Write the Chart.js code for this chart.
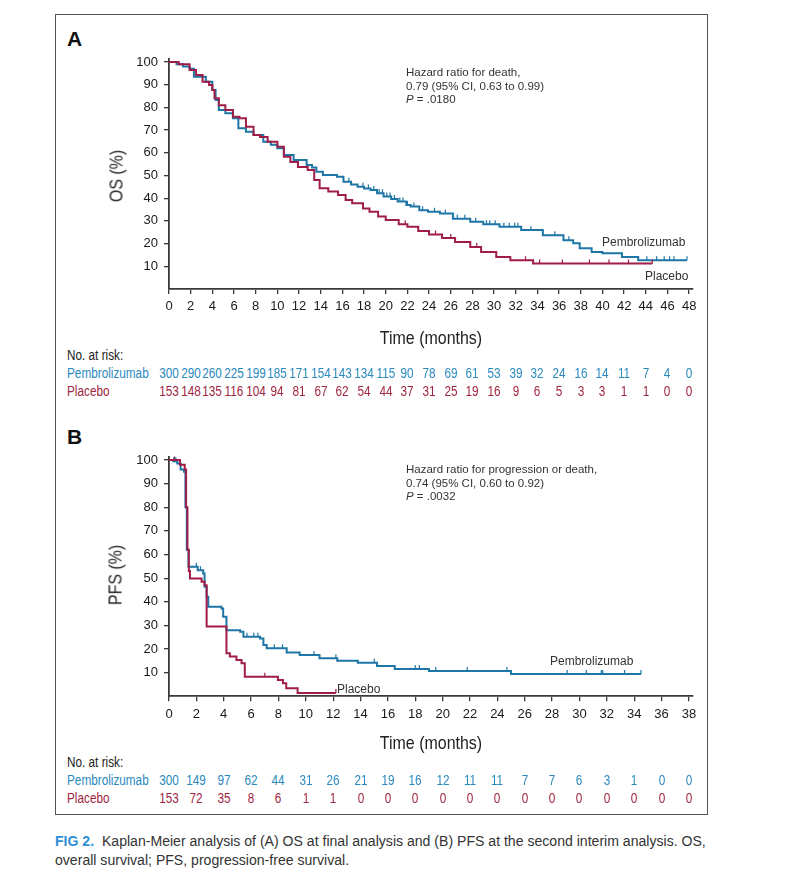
<!DOCTYPE html>
<html lang="en">
<head>
<meta charset="UTF-8">
<title>FIG 2 Kaplan-Meier</title>
<script src="https://cdn.jsdelivr.net/npm/chart.js"></script>
<style>
  body {
    margin: 0;
    width: 792px;
    height: 889px;
    position: relative;
    overflow: hidden;
    background: #fff;
    font-family: "Liberation Sans", Arial, sans-serif;
    color: #222;
  }
  .frame {
    position: absolute;
    left: 55px;
    top: 14px;
    width: 651px;
    height: 799px;
    border: 1px solid #555;
  }
  .box { position: absolute; }
  .t {
    position: absolute;
    white-space: nowrap;
    line-height: 1;
    transform: translateY(-50%);
  }
  /* condensed look: no narrow face installed, so squeeze the regular one */
  .n { transform: translateY(-50%) scaleX(0.84); transform-origin: left center; }
  .nc { transform: translate(-50%, -50%) scaleX(0.84); transform-origin: center center; }
  .panel { font-weight: bold; font-size: 21px; color: #111; }
  .note { font-size: 11.5px; color: #333; line-height: 13.5px; transform: none; }
  .lab { font-size: 12px; color: #333; }
  .ytitle { font-size: 19px; transform: translate(-50%, -50%) rotate(-90deg) scaleX(0.84); }
  .xtitle { font-size: 19px; }
  .risk { font-size: 14px; }
  .pem { color: #2a89bd; }
  .pla { color: #a0263f; }
  .cap { font-size: 15.3px; color: #333; transform: translateY(-50%) scaleX(0.92); transform-origin: left center; }
  .cap b { color: #2e8fd6; }
</style>
</head>
<body>
<div class="frame"></div>

<div class="t panel" style="left:67px; top:38px">A</div>
<div class="box" style="left:100px; top:40px"><canvas id="chartA" width="610" height="290"></canvas></div>
<div class="t note" style="left:406px; top:66px">Hazard ratio for death,<br>0.79 (95% CI, 0.63 to 0.99)<br><i>P</i> = .0180</div>
<div class="t lab" style="left:602px; top:242px">Pembrolizumab</div>
<div class="t lab" style="left:645px; top:276px">Placebo</div>
<div class="t ytitle" style="left:116px; top:176px">OS (%)</div>
<div class="t nc xtitle" style="left:431px; top:337px">Time (months)</div>
<div id="riskA"></div>

<div class="t panel" style="left:67px; top:436px">B</div>
<div class="box" style="left:100px; top:440px"><canvas id="chartB" width="610" height="290"></canvas></div>
<div class="t note" style="left:406px; top:463px">Hazard ratio for progression or death,<br>0.74 (95% CI, 0.60 to 0.92)<br><i>P</i> = .0032</div>
<div class="t lab" style="left:550px; top:661px">Pembrolizumab</div>
<div class="t lab" style="left:337px; top:689px">Placebo</div>
<div class="t ytitle" style="left:115px; top:575px">PFS (%)</div>
<div class="t nc xtitle" style="left:431px; top:742px">Time (months)</div>
<div id="riskB"></div>

<div class="t cap" style="left:55px; top:841px"><b>FIG 2.</b>&nbsp; Kaplan-Meier analysis of (A) OS at final analysis and (B) PFS at the second interim analysis. OS,</div>
<div class="t cap" style="left:55px; top:860px">overall survival; PFS, progression-free survival.</div>

<script>
// --- data ---
const yTicks = [10, 20, 30, 40, 50, 60, 70, 80, 90, 100];
const xTicksA = [0, 2, 4, 6, 8, 10, 12, 14, 16, 18, 20, 22, 24, 26, 28, 30, 32, 34, 36, 38, 40, 42, 44, 46, 48];
const xTicksB = [0, 2, 4, 6, 8, 10, 12, 14, 16, 18, 20, 22, 24, 26, 28, 30, 32, 34, 36, 38];

// OS (panel A)
const osPemT = [0, 0.7, 1.3, 1.9, 2.3, 3.4, 4.0, 4.3, 4.6, 5.2, 5.9, 6.4, 7.1, 7.8, 8.7, 9.4, 10.0, 10.6, 11.5, 12.7,
  13.2, 13.6, 14.2, 15.5, 16.1, 16.8, 17.4, 18.0, 18.6, 19.2, 19.8, 20.5, 21.1, 21.9, 22.3, 23.1, 23.9, 25.0, 26.2,
  27.8, 29.0, 30.5, 32.5, 34.5, 36.4, 37.3, 37.9, 39.0, 40.0, 41.8, 43.3, 47.8];
const osPemS = [100, 99, 98, 97, 93.5, 91.3, 87.7, 83.3, 78.9, 77.4, 75.2, 70.8, 69.3, 67.8, 64.9, 63.5, 62, 59, 56.8, 54.6,
  53.5, 51.7, 50.2, 49.5, 47.3, 46, 45, 44.3, 43.6, 42.2, 40.7, 39.6, 38.5, 37, 36.3, 34.7, 34, 33.3, 31,
  29.6, 28.5, 27.4, 26.0, 23.7, 21.5, 20.1, 17.9, 16.3, 15.7, 14.1, 12.7, 12.7];
const osPemCens = [16.6, 17.9, 18.4, 18.9, 19.4, 19.7, 20.1, 20.4, 20.8, 21.3, 21.6, 22.0, 22.6, 23.4, 24.5, 25.5, 26.6,
  27.3, 28.3, 29.3, 29.6, 30.1, 30.9, 31.4, 31.9, 32.2, 33.4, 35.6, 36.9, 44.1, 45.0, 45.7, 46.2, 46.6, 47.8];

const osPlaT = [0, 0.9, 1.9, 2.5, 3.1, 3.7, 4.0, 4.2, 4.6, 5.2, 5.9, 6.5, 7.1, 7.8, 8.4, 9.1, 10.0, 10.6, 11.2, 11.9,
  12.8, 13.4, 13.9, 14.7, 15.6, 16.3, 16.9, 17.9, 18.5, 19.3, 20.0, 21.2, 22.0, 23.0, 24.0, 25.2, 26.4, 27.8, 28.8,
  30.2, 31.5, 33.6, 44.6];
const osPlaS = [100, 99, 96.5, 94.3, 91.3, 89.9, 87.7, 84, 81, 78.9, 75.9, 75.2, 71.5, 67.8, 67, 64.9, 62.7, 58.3, 56, 53.8,
  52.4, 48, 44.4, 42.9, 41.4, 39.2, 37.8, 35.5, 34, 31.9, 30.4, 28.5, 27.4, 25.5, 24.0, 22.5, 20.7, 18.5, 16.3,
  14.1, 12.7, 11.2, 11.2];
const osPlaCens = [21.8, 24.6, 26.0, 28.4, 32.9, 34.2, 36.3, 38.8, 40.6, 42.4, 44.6];

// PFS (panel B)
const pfsPemT = [0, 0.3, 0.6, 0.85, 1.1, 1.2, 1.3, 1.42, 2.1, 2.5, 2.6, 2.75, 2.87, 3.84, 3.96, 4.2, 5.2, 5.44, 6.65, 6.9,
  7.14, 8.6, 9.55, 11.0, 12.3, 13.8, 15.2, 16.5, 19.0, 25.0, 34.5];
const pfsPemS = [100, 99.5, 98.5, 96, 95, 80, 62, 54.8, 53.4, 52, 46.4, 42.1, 37.9, 37.2, 33.7, 28, 27.3, 25.2, 24.5, 21.7,
  20.3, 18.5, 17.5, 16.1, 15.1, 14.2, 12.8, 11.6, 10.7, 9.4, 9.4];
const pfsPemCens = [0.35, 0.5, 2.0, 2.3, 5.7, 6.2, 6.5, 7.7, 8.3, 10.6, 12.2, 15.0, 18.0, 18.3, 19.5, 21.8, 24.7,
  29.1, 30.5, 31.6, 31.7, 33.3, 34.5];

const pfsPlaT = [0, 0.8, 1.15, 1.25, 1.35, 1.45, 1.53, 2.38, 2.6, 2.75, 4.2, 4.45, 4.93, 5.3, 5.54, 7.96, 8.33, 8.57, 9.4, 12.2];
const pfsPlaS = [100, 98, 96, 80, 62, 53, 49.9, 48.5, 47, 29.5, 18.2, 16.8, 15.4, 14, 8.3, 6.9, 5.5, 3.4, 1.4, 1.4];
const pfsPlaCens = [0.4, 7.0, 12.2];

// numbers at risk
const riskPemA = [300, 290, 260, 225, 199, 185, 171, 154, 143, 134, 115, 90, 78, 69, 61, 53, 39, 32, 24, 16, 14, 11, 7, 4, 0];
const riskPlaA = [153, 148, 135, 116, 104, 94, 81, 67, 62, 54, 44, 37, 31, 25, 19, 16, 9, 6, 5, 3, 3, 1, 1, 0, 0];
const riskPemB = [300, 149, 97, 62, 44, 31, 26, 21, 19, 16, 12, 11, 11, 7, 7, 6, 3, 1, 0, 0];
const riskPlaB = [153, 72, 35, 8, 6, 1, 1, 0, 0, 0, 0, 0, 0, 0, 0, 0, 0, 0, 0, 0];

const BLUE = "#1d76a5";
const RED = "#9f1d47";
const AXIS = "#3a3a3a";

function steps(times, surv) {
  return times.map((t, i) => ({ x: t, y: surv[i] }));
}

function survAt(times, surv, t) {
  let s = surv[0];
  for (let i = 0; i < times.length; i++) {
    if (times[i] <= t) s = surv[i];
  }
  return s;
}

function censorPts(cens, times, surv) {
  return cens.map(t => ({ x: t, y: survAt(times, surv, t) }));
}

function curve(times, surv, color, order) {
  return { data: steps(times, surv), stepped: true, borderColor: color, borderWidth: 2, pointRadius: 0, order: order };
}

function marks(cens, times, surv, color, order) {
  return {
    data: censorPts(cens, times, surv), showLine: false, pointStyle: "dash", pointRotation: -90,
    pointRadius: 4, pointBorderColor: color, pointBorderWidth: 1.2, order: order
  };
}

function drawKM(id, p) {
  const tickFont = { family: "Liberation Sans", size: 13 };
  return new Chart(document.getElementById(id), {
    type: "line",
    data: {
      datasets: [
        curve(p.plaT, p.plaS, RED, 0),
        marks(p.plaC, p.plaT, p.plaS, RED, 0),
        curve(p.pemT, p.pemS, BLUE, 1),
        marks(p.pemC, p.pemT, p.pemS, BLUE, 1)
      ]
    },
    options: {
      responsive: false,
      animation: false,
      events: [],
      layout: { padding: { left: 0, top: p.padTop, right: p.padRight, bottom: 0 } },
      plugins: { legend: { display: false }, tooltip: { enabled: false } },
      scales: {
        x: {
          type: "linear", min: 0, max: p.xMax,
          afterBuildTicks: ax => { ax.ticks = p.xTicks.map(v => ({ value: v })); },
          afterFit: ax => { ax.height = p.xAxisH; },
          grid: { drawOnChartArea: false, tickLength: 5, color: AXIS, lineWidth: 1.3 },
          border: { color: AXIS, width: 1.8 },
          ticks: { color: "#1a1a1a", font: tickFont, padding: 5, maxRotation: 0, autoSkip: false, callback: v => v }
        },
        y: {
          type: "linear", min: 0, max: 101.5,
          afterBuildTicks: ax => { ax.ticks = yTicks.map(v => ({ value: v })); },
          afterFit: ax => { ax.width = 69; },
          grid: { drawOnChartArea: false, tickLength: 5, color: AXIS, lineWidth: 1.3 },
          border: { color: AXIS, width: 1.8 },
          ticks: { color: "#1a1a1a", font: tickFont, padding: 6, callback: v => v }
        }
      }
    }
  });
}

function riskTable(holder, chart, left, times, pem, pla, y0) {
  const el = document.getElementById(holder);
  let html = '<div class="t n risk" style="left:67px; top:' + y0 + 'px">No. at risk:</div>';
  html += '<div class="t n risk pem" style="left:67px; top:' + (y0 + 18) + 'px">Pembrolizumab</div>';
  html += '<div class="t n risk pla" style="left:67px; top:' + (y0 + 36) + 'px">Placebo</div>';
  times.forEach((t, i) => {
    const x = left + chart.scales.x.getPixelForValue(t);
    html += '<div class="t nc risk pem" style="left:' + x + 'px; top:' + (y0 + 18) + 'px">' + pem[i] + '</div>';
    html += '<div class="t nc risk pla" style="left:' + x + 'px; top:' + (y0 + 36) + 'px">' + pla[i] + '</div>';
  });
  el.innerHTML = html;
}

const chartA = drawKM("chartA", {
  pemT: osPemT, pemS: osPemS, pemC: osPemCens,
  plaT: osPlaT, plaS: osPlaS, plaC: osPlaCens,
  xTicks: xTicksA, xMax: 48.3, padTop: 18.6, padRight: 17.6, xAxisH: 41
});
const chartB = drawKM("chartB", {
  pemT: pfsPemT, pemS: pfsPemS, pemC: pfsPemCens,
  plaT: pfsPlaT, plaS: pfsPlaS, plaC: pfsPlaCens,
  xTicks: xTicksB, xMax: 38.3, padTop: 16.5, padRight: 17, xAxisH: 33.7
});

riskTable("riskA", chartA, 100, xTicksA, riskPemA, riskPlaA, 355);
riskTable("riskB", chartB, 100, xTicksB, riskPemB, riskPlaB, 762);
</script>
</body>
</html>
